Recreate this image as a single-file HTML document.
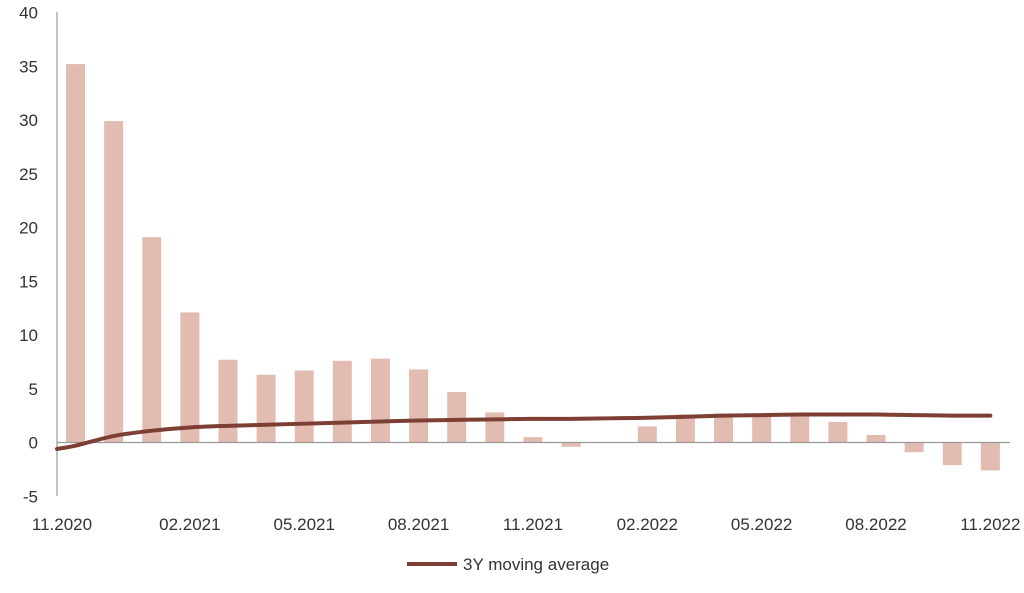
<!DOCTYPE html>
<html><head><meta charset="utf-8"><style>
body{margin:0;background:#fff;}
svg text{font-family:"Liberation Sans",sans-serif;fill:#333;}
</style></head><body>
<svg id="chart" width="1024" height="588"></svg>
<script>
const categories=["11.2020","12.2020","01.2021","02.2021","03.2021","04.2021","05.2021","06.2021","07.2021","08.2021","09.2021","10.2021","11.2021","12.2021","01.2022","02.2022","03.2022","04.2022","05.2022","06.2022","07.2022","08.2022","09.2022","10.2022","11.2022"];
const barValues=[35.2,29.9,19.1,12.1,7.7,6.3,6.7,7.6,7.8,6.8,4.7,2.8,0.5,-0.4,0,1.5,2.6,2.7,2.6,2.6,1.9,0.7,-0.9,-2.1,-2.6];
const lineStart=-0.6;
const lineValues=[-0.3,0.6,1.1,1.4,1.55,1.65,1.75,1.85,1.95,2.05,2.1,2.15,2.2,2.2,2.25,2.3,2.4,2.5,2.55,2.6,2.6,2.6,2.55,2.5,2.5];
const yTicks=[-5,0,5,10,15,20,25,30,35,40];
const xLabelIdx=[0,3,6,9,12,15,18,21,24];
const NS="http://www.w3.org/2000/svg";
const svg=document.getElementById('chart');
const x0=57,step=38.12,firstC=75.5;
const xs=i=>firstC+i*step;
const ys=v=>442.5-v*10.75;
function mk(t,a){const e=document.createElementNS(NS,t);for(const k in a)e.setAttribute(k,a[k]);svg.appendChild(e);return e;}
yTicks.forEach(v=>{const t=mk('text',{x:38,y:ys(v)+6,'text-anchor':'end','font-size':17});t.textContent=v;

});
barValues.forEach((v,i)=>{const y1=ys(Math.max(v,0)),y2=ys(Math.min(v,0));
const r=mk('rect',{x:xs(i)-9.5,y:y1,width:19,height:Math.max(y2-y1,0),fill:'#e2bcb1'});

});
const ax=mk('line',{x1:x0,x2:x0,y1:12,y2:496,stroke:'#999','stroke-width':1.2});


const zl=mk('line',{x1:x0,x2:1010,y1:ys(0),y2:ys(0),stroke:'#999','stroke-width':1.2});


let pts=[[x0,ys(lineStart)]].concat(lineValues.map((v,i)=>[xs(i),ys(v)]));
let d='M'+pts[0][0]+','+pts[0][1];
for(let i=1;i<pts.length;i++){const p0=pts[i-2]||pts[i-1],p1=pts[i-1],p2=pts[i],p3=pts[i+1]||p2;
d+=' C'+(p1[0]+(p2[0]-p0[0])/6)+','+(p1[1]+(p2[1]-p0[1])/6)+' '+(p2[0]-(p3[0]-p1[0])/6)+','+(p2[1]-(p3[1]-p1[1])/6)+' '+p2[0]+','+p2[1];}
const ln=mk('path',{d:d,fill:'none',stroke:'#7d3f33','stroke-width':4,'stroke-linecap':'round'});


xLabelIdx.forEach(i=>{const cx=i===0?62:xs(i);const t=mk('text',{x:cx,y:530,'text-anchor':'middle','font-size':17});t.textContent=categories[i];

});
const g=mk('g',{});


const ll=document.createElementNS(NS,'line');ll.setAttribute('x1',407);ll.setAttribute('x2',457);ll.setAttribute('y1',564);ll.setAttribute('y2',564);ll.setAttribute('stroke','#7d3f33');ll.setAttribute('stroke-width',4);g.appendChild(ll);
const lt=document.createElementNS(NS,'text');lt.setAttribute('x',463);lt.setAttribute('y',570);lt.setAttribute('font-size',17);lt.textContent='3Y moving average';g.appendChild(lt);
</script>
</body></html>
